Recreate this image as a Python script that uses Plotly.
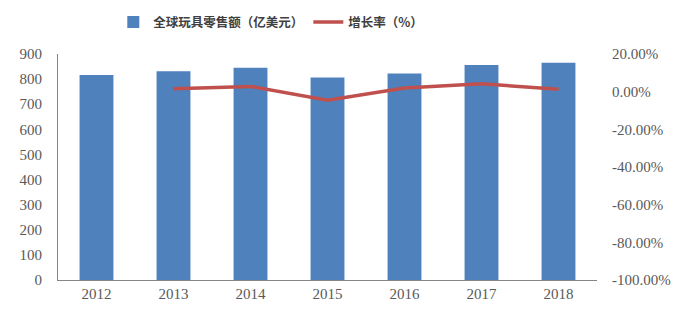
import plotly.graph_objects as go

years = ["2012", "2013", "2014", "2015", "2016", "2017", "2018"]
sales = [816, 831, 845, 806, 822, 856, 865]
growth_years = ["2013", "2014", "2015", "2016", "2017", "2018"]
growth = [1.5, 2.8, -4.5, 2.0, 4.2, 1.3]

left_ticks = [0, 100, 200, 300, 400, 500, 600, 700, 800, 900]
right_ticks = [20, 0, -20, -40, -60, -80, -100]
right_labels = ["20.00%", "0.00%", "-20.00%", "-40.00%", "-60.00%", "-80.00%", "-100.00%"]

tick_font = dict(family="Liberation Serif", size=15, color="#595959")

fig = go.Figure()
fig.add_trace(go.Bar(
    x=years, y=sales, name="全球玩具零售额（亿美元）",
    marker=dict(color="#4F81BD", line=dict(width=0)), width=0.44,
))
fig.add_trace(go.Scatter(
    x=growth_years, y=growth, name="增长率（%）", yaxis="y2",
    mode="lines", line=dict(color="#C0504D", width=3.5),
))

fig.update_layout(
    width=677, height=320,
    margin=dict(l=58, r=80, t=54, b=40, autoexpand=False),
    plot_bgcolor="white", paper_bgcolor="white",
    showlegend=True,
    legend=dict(orientation="h", x=0.40, xanchor="center", y=0.93, yanchor="middle",
                yref="container", xref="container",
                font=dict(family="Noto Sans CJK SC", size=12.5, color="#404040", weight="bold"),
                itemwidth=30, traceorder="normal"),
    bargap=0.56,
    xaxis=dict(type="category", showline=True, linecolor="#868686", linewidth=1,
               ticks="", tickfont=tick_font, showgrid=False),
    yaxis=dict(range=[0, 900], tickvals=left_ticks, showline=True, linecolor="#868686",
               linewidth=1, ticks="", tickfont=tick_font, showgrid=False,
               zeroline=False, ticklabelstandoff=12),
    yaxis2=dict(range=[-100, 20], tickvals=right_ticks, ticktext=right_labels,
                overlaying="y", side="right", showline=False, ticks="",
                tickfont=tick_font, showgrid=False, zeroline=False, ticklabelstandoff=14),
)

fig.write_html("out.html")
